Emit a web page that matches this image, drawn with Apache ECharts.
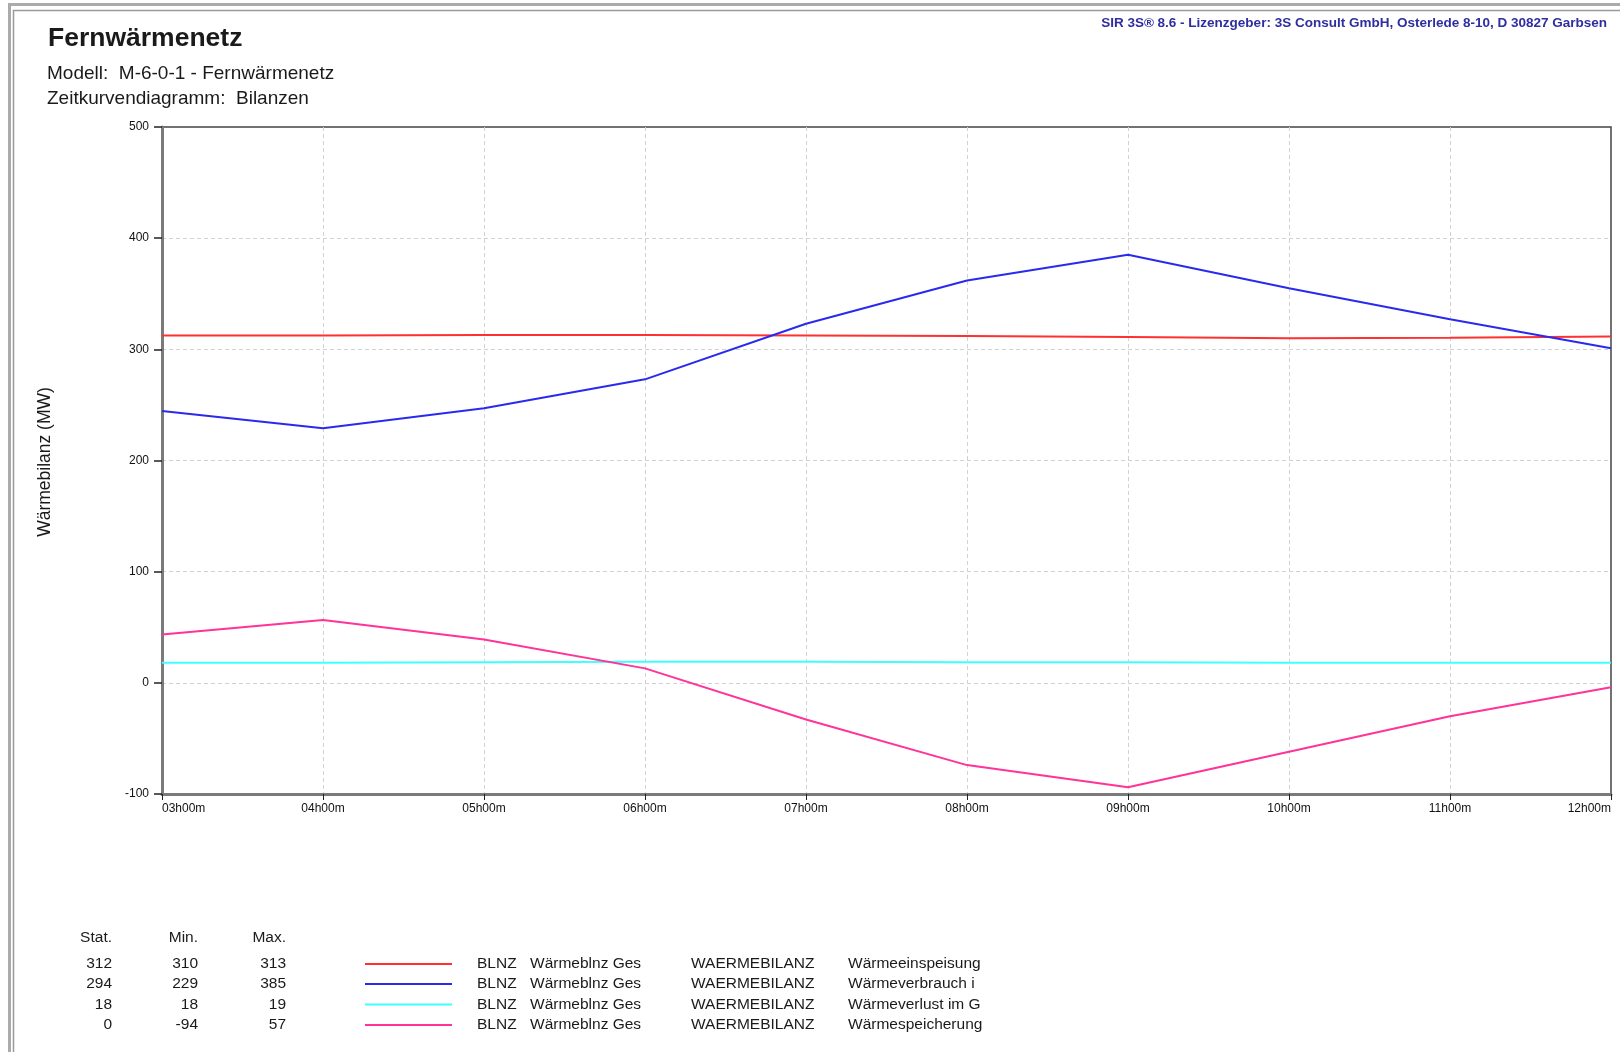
<!DOCTYPE html>
<html>
<head>
<meta charset="utf-8">
<script src="https://cdn.jsdelivr.net/npm/echarts@6/dist/echarts.min.js"></script>
<style>
html,body{margin:0;padding:0;background:#fff;}
#chart{width:1620px;height:1052px;}
</style>
</head>
<body>
<div id="chart"></div>
<script>
// ---- data ----
var times = ['03h00m','04h00m','05h00m','06h00m','07h00m','08h00m','09h00m','10h00m','11h00m','12h00m'];
var einspeisung = [312.5, 312.5, 313, 313, 312.5, 312, 311, 310, 310.5, 311.5];
var verbrauch   = [244.5, 229, 247, 273, 323, 362, 385, 355, 327, 301];
var verlust     = [18, 18, 18.5, 19, 19, 18.5, 18.5, 18, 18, 18];
var speicherung = [43.5, 56.5, 39, 13, -33, -74, -94, -62, -30, -4];

var seriesNames = ['Wärmeeinspeisung', 'Wärmeverbrauch im Netz', 'Wärmeverlust im Gesamtnetz', 'Wärmespeicherung'];
var seriesColors = ['#ff3030', '#2a2aee', '#40ffff', '#ff3399'];
var statVals = ['312', '294', '18', '0'];
var minVals  = ['310', '229', '18', '-94'];
var maxVals  = ['313', '385', '19', '57'];
var objType  = 'BLNZ';
var objName  = 'Wärmeblnz Ges';
var attrName = 'WAERMEBILANZ';
var yTicks = {min: -100, max: 500, interval: 100};

var titleText = 'Fernwärmenetz';
var subText1 = 'Modell:  M-6-0-1 - Fernwärmenetz';
var subText2 = 'Zeitkurvendiagramm:  Bilanzen';
var licText = 'SIR 3S® 8.6 - Lizenzgeber: 3S Consult GmbH, Osterlede 8-10, D 30827 Garbsen';
var yName = 'Wärmebilanz (MW)';

var FONT = '"Liberation Sans", Arial, sans-serif';

var chart = echarts.init(document.getElementById('chart'), null, {renderer: 'canvas'});

var seriesData = [einspeisung, verbrauch, verlust, speicherung];
var series = seriesData.map(function (d, i) {
  return {
    type: 'line', name: seriesNames[i], data: d,
    showSymbol: false, symbol: 'none', animation: false,
    lineStyle: {color: seriesColors[i], width: 2},
    itemStyle: {color: seriesColors[i]}
  };
});

function txt(x, y, text, font, fill, align, valign, extra) {
  var st = {text: text, font: font, fill: fill, textAlign: align || 'left', align: align || 'left',
            textVerticalAlign: valign || 'middle', verticalAlign: valign || 'middle'};
  if (extra) for (var k in extra) st[k] = extra[k];
  return {type: 'text', x: x, y: y, style: st, silent: true};
}

var g = [];
// outer frame
g.push({type: 'rect', shape: {x: 9.5, y: 4.5, width: 1700, height: 1200}, style: {fill: 'none', stroke: '#ababab', lineWidth: 3}, silent: true});
g.push({type: 'rect', shape: {x: 13.5, y: 10.5, width: 1700, height: 1200}, style: {fill: 'none', stroke: '#9a9a9a', lineWidth: 1.5}, silent: true});
// titles
g.push(txt(48, 39, titleText, 'bold 26.5px ' + FONT, '#1a1a1a'));
g.push(txt(47, 73.5, subText1, '19px ' + FONT, '#1a1a1a'));
g.push(txt(47, 98.5, subText2, '19px ' + FONT, '#1a1a1a'));
g.push(txt(1607, 23, licText, 'bold 13.5px ' + FONT, '#2e2ea0', 'right'));
// y axis name
g.push({type: 'text', x: 45.5, y: 462, rotation: Math.PI / 2,
        style: {text: yName, font: '17.5px ' + FONT, fill: '#1a1a1a', textAlign: 'center', align: 'center', textVerticalAlign: 'middle', verticalAlign: 'middle'}, silent: true});
// legend table
var tFont = '15.5px ' + FONT;
g.push(txt(112, 938, 'Stat.', tFont, '#1a1a1a', 'right'));
g.push(txt(198, 938, 'Min.', tFont, '#1a1a1a', 'right'));
g.push(txt(286, 938, 'Max.', tFont, '#1a1a1a', 'right'));
var rowY = [964, 984, 1004.5, 1025];
for (var i = 0; i < seriesNames.length; i++) {
  var y = rowY[i];
  g.push(txt(112, y, statVals[i], tFont, '#1a1a1a', 'right'));
  g.push(txt(198, y, minVals[i], tFont, '#1a1a1a', 'right'));
  g.push(txt(286, y, maxVals[i], tFont, '#1a1a1a', 'right'));
  g.push({type: 'line', shape: {x1: 365, y1: y, x2: 452, y2: y}, style: {stroke: seriesColors[i], lineWidth: 2}, silent: true});
  g.push(txt(477, y, objType, tFont, '#1a1a1a'));
  g.push(txt(530, y, objName, tFont, '#1a1a1a'));
  g.push(txt(691, y, attrName, tFont, '#1a1a1a'));
  g.push(txt(848, y, seriesNames[i], tFont, '#1a1a1a', 'left', 'middle', {width: 140, overflow: 'truncate', ellipsis: ''}));
}

var option = {
  backgroundColor: '#ffffff',
  animation: false,
  textStyle: {fontFamily: FONT},
  grid: {left: 162, right: 9, top: 127, bottom: 258, show: true, borderColor: '#444', borderWidth: 1.5, backgroundColor: 'transparent'},
  xAxis: {
    type: 'category', data: times, boundaryGap: false,
    axisLine: {show: true, onZero: false, lineStyle: {color: '#7a7a7a', width: 3}},
    axisTick: {show: true, length: 6, lineStyle: {color: '#222', width: 1}},
    axisLabel: {fontSize: 12, color: '#111', margin: 9, alignMinLabel: 'left', alignMaxLabel: 'right', fontFamily: FONT},
    splitLine: {show: true, showMinLine: false, showMaxLine: false, lineStyle: {color: '#d2d2d2', type: [4, 3], width: 1}}
  },
  yAxis: {
    type: 'value', min: yTicks.min, max: yTicks.max, interval: yTicks.interval,
    axisLine: {show: true, onZero: false, lineStyle: {color: '#7a7a7a', width: 3}},
    axisTick: {show: true, length: 8, lineStyle: {color: '#222', width: 1.5}},
    axisLabel: {fontSize: 12, color: '#111', margin: 13, fontFamily: FONT},
    splitLine: {show: true, showMinLine: false, showMaxLine: false, lineStyle: {color: '#d2d2d2', type: [4, 3], width: 1}}
  },
  series: series,
  graphic: {elements: g}
};
chart.setOption(option);
</script>
</body>
</html>
